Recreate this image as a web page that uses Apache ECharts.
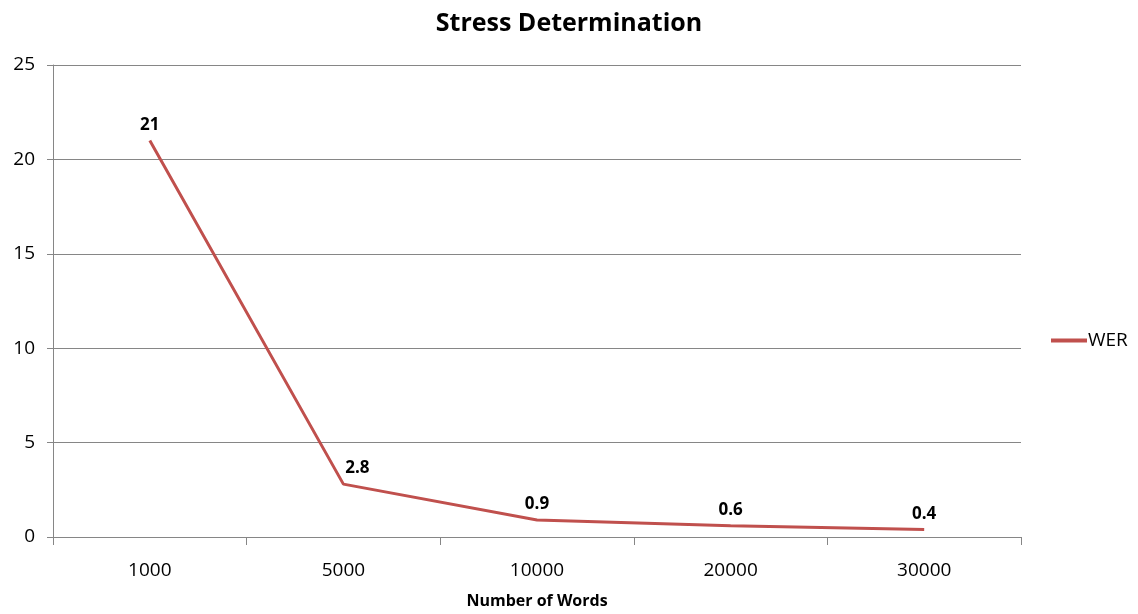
<!DOCTYPE html>
<html>
<head>
<meta charset="utf-8">
<script src="https://cdn.jsdelivr.net/npm/echarts@6/dist/echarts.min.js"></script>
<style>
  html, body { margin: 0; padding: 0; background: #fff; }
  #chart { width: 1138px; height: 614px; }
</style>
</head>
<body>
<div id="chart"></div>
<script>
// Word error rate by vocabulary size
const categories = ['1000', '5000', '10000', '20000', '30000'];
const werValues = [21, 2.8, 0.9, 0.6, 0.4];
const yTicks = { min: 0, max: 25, interval: 5 };

const FONT = '"Open Sans", "Liberation Sans", sans-serif';
const LINE_COLOR = '#C0504D';
const AXIS_COLOR = '#868686';

const chart = echarts.init(document.getElementById('chart'));

const seriesData = werValues.map((v, i) => {
  const item = { value: v };
  if (i === 1) item.label = { offset: [14, 0] };
  return item;
});

chart.setOption({
  animation: false,
  backgroundColor: '#ffffff',
  title: {
    text: 'Stress Determination',
    left: 'center',
    top: 6,
    textStyle: { fontFamily: FONT, fontSize: 25, fontWeight: 'bold', color: '#000' }
  },
  legend: {
    orient: 'vertical',
    left: 1046,
    top: 326,
    itemWidth: 36,
    itemHeight: 4,
    itemGap: 6,
    icon: 'rect',
    textStyle: { fontFamily: FONT, fontSize: 19, color: '#000', padding: [0, 0, 0, -4] },
    data: ['WER']
  },
  grid: { left: 53, right: 117, top: 65, bottom: 74 },
  xAxis: {
    type: 'category',
    data: categories,
    boundaryGap: true,
    name: 'Number of Words',
    nameLocation: 'middle',
    nameGap: 56,
    nameTextStyle: { fontFamily: FONT, fontSize: 16, fontWeight: 'bold', color: '#000' },
    axisLine: { lineStyle: { color: AXIS_COLOR, width: 1 } },
    axisTick: { show: true, length: 8, alignWithLabel: false, lineStyle: { color: AXIS_COLOR } },
    axisLabel: { fontFamily: FONT, fontSize: 19, color: '#000', margin: 24 },
    splitLine: { show: false }
  },
  yAxis: {
    type: 'value',
    min: yTicks.min,
    max: yTicks.max,
    interval: yTicks.interval,
    axisLine: { show: true, lineStyle: { color: AXIS_COLOR, width: 1 } },
    axisTick: { show: true, length: 6, lineStyle: { color: AXIS_COLOR } },
    axisLabel: { fontFamily: FONT, fontSize: 19, color: '#000', margin: 18 },
    splitLine: { show: true, lineStyle: { color: AXIS_COLOR, width: 1 } }
  },
  series: [{
    name: 'WER',
    type: 'line',
    data: seriesData,
    color: LINE_COLOR,
    lineStyle: { color: LINE_COLOR, width: 3 },
    symbol: 'circle',
    symbolSize: 0,
    showSymbol: true,
    label: {
      show: true,
      position: 'top',
      distance: 7,
      fontFamily: FONT,
      fontSize: 17,
      fontWeight: 'bold',
      color: '#000'
    }
  }]
});
</script>
</body>
</html>
